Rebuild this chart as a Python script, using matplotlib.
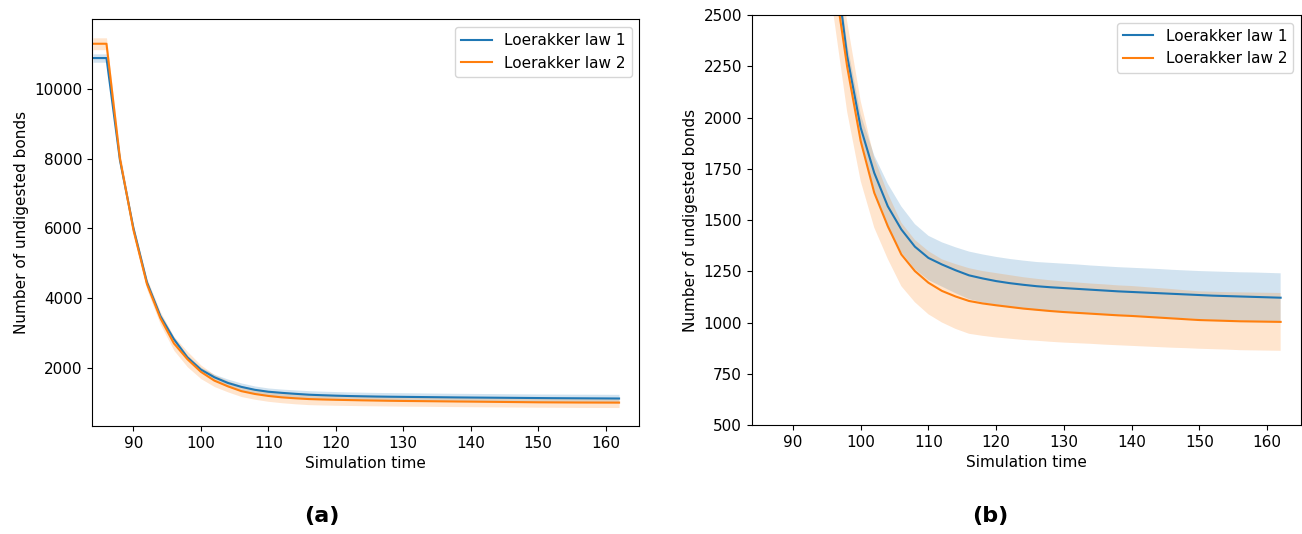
import numpy as np
import matplotlib
matplotlib.use('Agg')
import matplotlib.pyplot as plt

# 原图字体稍大一些
plt.rcParams['font.size'] = 11

# 时间点（每 2 个单位一个点）
time = [84, 86, 88, 90, 92, 94, 96, 98, 100, 102, 104, 106, 108, 110, 112, 114,
        116, 118, 120, 122, 124, 126, 128, 130, 132, 134, 136, 138, 140, 142,
        144, 146, 148, 150, 152, 154, 156, 158, 160, 162]

# Loerakker law 1 的均值和标准差
law1_mean = [10880, 10880, 7950, 6000, 4450, 3480, 2820, 2300, 1950, 1730, 1567, 1454,
             1370, 1315, 1283, 1255, 1230, 1215, 1202, 1192, 1184, 1177, 1172, 1168,
             1164, 1160, 1156, 1152, 1149, 1146, 1143, 1140, 1137, 1134, 1131, 1129,
             1127, 1125, 1123, 1121]
law1_std = [120, 120, 100, 80, 70, 65, 60, 60, 65, 85, 110, 112, 110, 108, 108, 112,
            116, 117, 118, 118, 118, 118, 119, 119, 119, 118, 118, 118, 118, 118,
            118, 117, 117, 117, 118, 118, 118, 119, 119, 119]

# Loerakker law 2 的均值和标准差
law2_mean = [11290, 11290, 8000, 5950, 4400, 3420, 2700, 2248, 1885, 1633, 1470, 1332,
             1251, 1194, 1154, 1127, 1105, 1093, 1084, 1076, 1068, 1062, 1056, 1051,
             1047, 1043, 1039, 1035, 1032, 1028, 1024, 1020, 1016, 1012, 1010, 1008,
             1006, 1005, 1004, 1003]
law2_std = [170, 170, 160, 150, 160, 180, 200, 220, 195, 170, 160, 155, 152, 154, 154,
            158, 160, 158, 157, 155, 153, 151, 150, 149, 148, 147, 147, 146, 146, 145,
            144, 143, 141, 140, 140, 140, 141, 141, 141, 141]

series = [('Loerakker law 1', law1_mean, law1_std, 'tab:blue'),
          ('Loerakker law 2', law2_mean, law2_std, 'tab:orange')]

fig = plt.figure(figsize=(13.02, 5.34), dpi=100)
ax_a = fig.add_axes([0.0709, 0.2022, 0.4201, 0.7616])
ax_b = fig.add_axes([0.5773, 0.2041, 0.4219, 0.7678])

t = np.array(time)
for ax in (ax_a, ax_b):
    for label, mean, std, color in series:
        m = np.array(mean)
        s = np.array(std)
        ax.plot(t, m, color=color, label=label, linewidth=1.5)
        ax.fill_between(t, m - s, m + s, color=color, alpha=0.2, linewidth=0)
    ax.set_xlabel('Simulation time')
    ax.set_ylabel('Number of undigested bonds')
    ax.set_xlim(83.9, 165.0)
    ax.legend(loc='upper right')

ax_b.set_ylim(500, 2500)

# 子图标号
cap_font = dict(fontsize=16, fontweight='bold', family=['Liberation Sans Narrow', 'DejaVu Sans'])
fig.text(322 / 1302, 1 - 516 / 534, '(a)', ha='center', va='center', **cap_font)
fig.text(990 / 1302, 1 - 516 / 534, '(b)', ha='center', va='center', **cap_font)

fig.savefig('out.png', dpi=100)
